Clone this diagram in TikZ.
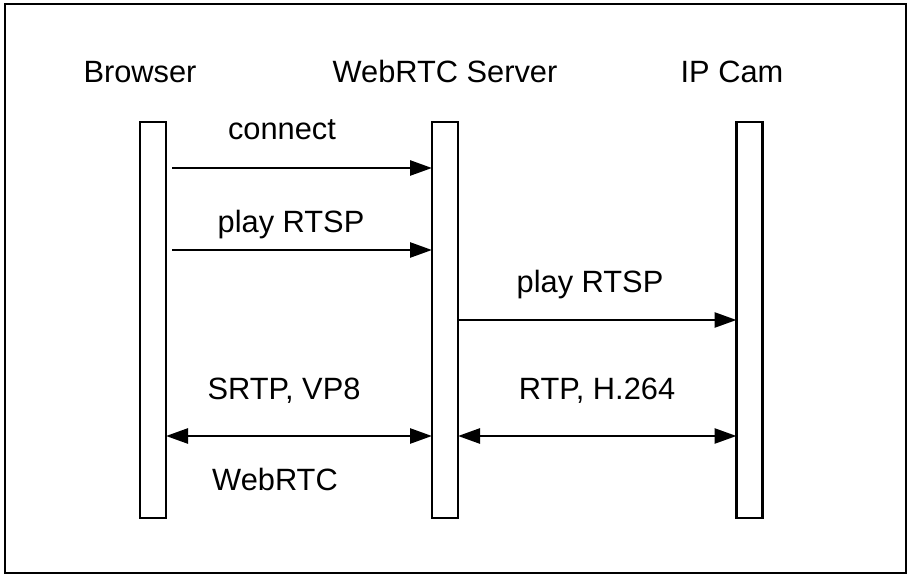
\documentclass[tikz,border=0pt]{standalone}
\usepackage{fontspec}
\setmainfont{Liberation Sans}
\usetikzlibrary{arrows.meta}

\tikzset{
    lifeline/.style={draw, line width=1.3pt, rectangle, minimum width=13pt, minimum height=198pt, inner sep=0pt, outer sep=0pt},
    msg/.style={line width=1.3pt, -{Triangle[length=11pt,width=7.5pt]}},
    both/.style={line width=1.3pt, {Triangle[length=11pt,width=7.5pt]}-{Triangle[length=11pt,width=7.5pt]}},
    lbl/.style={anchor=base, inner sep=0pt, font=\fontsize{15.4}{18}\selectfont}
}

\begin{document}
\begin{tikzpicture}[x=0.5pt,y=-0.5pt]
        \useasboundingbox (0,0) rectangle (909,576);
        \draw[line width=1.2pt] (5,4) rectangle (906,573);
        % lifelines
        \node[lifeline] (browser) at (153,320) {};
        \node[lifeline] (server) at (445,320) {};
        \node[lifeline] (ipcam) at (749.5,320) {};
        \node[lbl] (tbrowser) at (140,83) {Browser};
        \node[lbl] (tserver) at (445,83) {WebRTC Server};
        \node[lbl] (tipcam) at (732,83) {IP Cam};
        % messages
        \draw[msg, shorten <=3pt] (browser.east |- 0,168) -- (server.west |- 0,168);
        \node[lbl] (lconnect) at (282,140) {connect};
        \draw[msg, shorten <=3pt] (browser.east |- 0,250) -- (server.west |- 0,250);
        \node[lbl] (lplay) at (291,233) {play RTSP};
        \draw[msg] (server.east |- 0,320) -- (ipcam.west |- 0,320);
        \node[lbl] (lplaycam) at (590,293) {play RTSP};
        % media
        \draw[both] (browser.east |- 0,436) -- (server.west |- 0,436);
        \node[lbl] (lsrtp) at (284,400) {SRTP, VP8};
        \node[lbl] (lwebrtc) at (275,490) {WebRTC};
        \draw[both] (server.east |- 0,436) -- (ipcam.west |- 0,436);
        \node[lbl] (lrtp) at (597,400) {RTP, H.264};
    \end{tikzpicture}
\end{document}
